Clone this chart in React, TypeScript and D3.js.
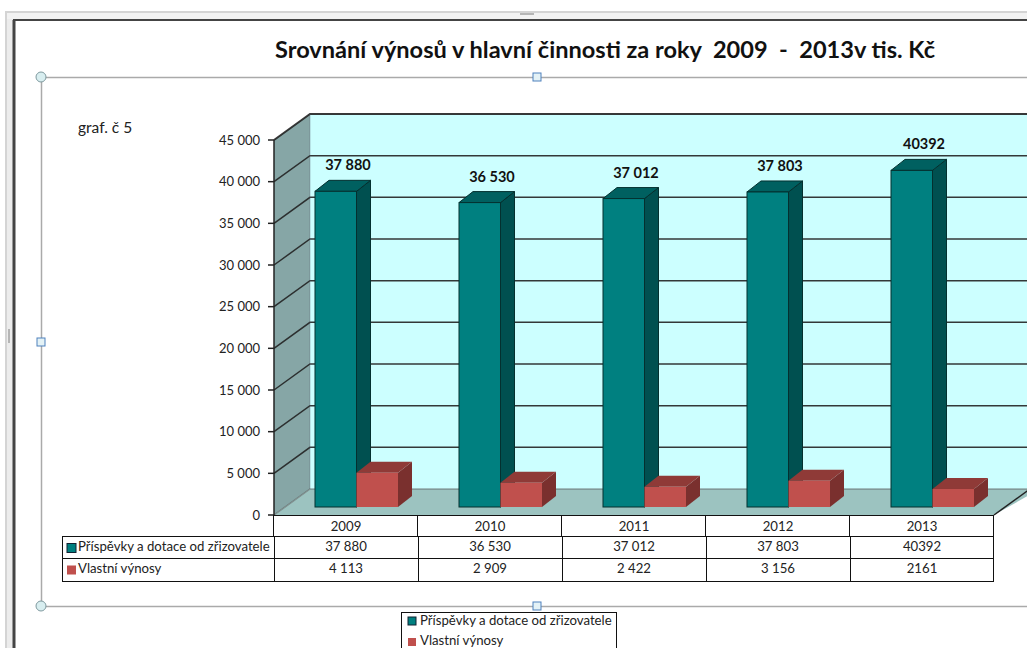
import React from "react";
import * as d3 from "d3";

const years = ["2009", "2010", "2011", "2012", "2013"];
const contributions = [37880, 36530, 37012, 37803, 40392];
const ownRevenue = [4113, 2909, 2422, 3156, 2161];
const contributionLabels = ["37 880", "36 530", "37 012", "37 803", "40392"];
const ownLabels = ["4 113", "2 909", "2 422", "3 156", "2161"];
const yTicks = [0, 5000, 10000, 15000, 20000, 25000, 30000, 35000, 40000, 45000];
const tickLabels = ["0", "5 000", "10 000", "15 000", "20 000", "25 000", "30 000", "35 000", "40 000", "45 000"];
const seriesNames = ["Příspěvky a dotace od zřizovatele", "Vlastní výnosy"];

const FONT = "Lato, 'Open Sans', sans-serif";
const y = d3.scaleLinear().domain([0, 45000]).range([515, 140]);
const x = d3.scaleBand<string>().domain(years).range([274, 994]);
const DX = 36, DY = -26, BAR_DX = 14, BAR_DY = -11, BW = 41.5, BAR_FLOOR = -8;
const RIGHT = 1040;
const y0 = y(0);

const poly = (pts: [number, number][]) => pts.map((p) => p.join(",")).join(" ");

function Box({ px, value, front, side, top }: { px: number; value: number; front: string; side: string; top: string }) {
  const by = y0 + BAR_FLOOR;
  const ty = y(value) + BAR_FLOOR;
  return (
    <g strokeWidth={1} stroke={front === "#008080" ? "#04302f" : "none"}>
      <polygon points={poly([[px + BW, by], [px + BW + BAR_DX, by + BAR_DY], [px + BW + BAR_DX, ty + BAR_DY], [px + BW, ty]])} fill={side} />
      <polygon points={poly([[px, ty], [px + BAR_DX, ty + BAR_DY], [px + BW + BAR_DX, ty + BAR_DY], [px + BW, ty]])} fill={top} />
      <rect x={px} y={ty} width={BW} height={by - ty} fill={front} />
    </g>
  );
}

function Table() {
  const rows = [
    { top: 536, bottom: 558, name: seriesNames[0], labels: contributionLabels, fill: "#008080", stroke: "#123" },
    { top: 558, bottom: 581, name: seriesNames[1], labels: ownLabels, fill: "#c0504d", stroke: "none" },
  ];
  const center = (yr: string) => x(yr)! + x.bandwidth() / 2;
  return (
    <g fontFamily={FONT} fontSize={13.2} fill="#222">
      {years.map((yr) => (
        <g key={yr}>
          <line x1={x(yr)! - 0.5} x2={x(yr)! - 0.5} y1={y0} y2={536} stroke="#111" />
          <text x={center(yr)} y={530.5} textAnchor="middle">{yr}</text>
        </g>
      ))}
      <line x1={993.5} x2={993.5} y1={y0} y2={536} stroke="#111" />
      <line x1={274} x2={994} y1={515.5} y2={515.5} stroke="#111" />
      {rows.map((r) => (
        <g key={r.name}>
          <rect x={62.5} y={r.top + 0.5} width={931} height={r.bottom - r.top} fill="none" stroke="#111" />
          <rect x={67} y={r.top + 7.5} width={9} height={9} fill={r.fill} stroke={r.stroke} />
          <text x={78} y={r.top + 15}>{r.name}</text>
          {years.map((yr, i) => (
            <g key={yr}>
              <line x1={x(yr)! + 0.5} x2={x(yr)! + 0.5} y1={r.top} y2={r.bottom} stroke="#111" />
              <text x={center(yr)} y={r.top + 15} textAnchor="middle">{r.labels[i]}</text>
            </g>
          ))}
        </g>
      ))}
    </g>
  );
}

function Handle({ cx, cy, round }: { cx: number; cy: number; round?: boolean }) {
  return round ? (
    <circle cx={cx} cy={cy} r={5} fill="#d8eef0" stroke="#7f9a9f" />
  ) : (
    <rect x={cx - 4} y={cy - 4} width={8} height={8} fill="#e4f2f6" stroke="#4f81bd" />
  );
}

export default function App() {
  return (
    <svg width={1027} height={648} style={{ position: "absolute", left: 0, top: 0, background: "#fff" }}>
      {/* window frame */}
      <rect x={6} y={12} width={1030} height={700} fill="#fff" stroke="#d4d4d4" strokeWidth={2} />
      <rect x={7} y={13} width={6} height={700} fill="#ececec" />
      <rect x={7} y={13} width={1030} height={6} fill="#f2f2f2" />
      <line x1={13} x2={1027} y1={20} y2={20} stroke="#444" strokeWidth={2} />
      <line x1={14} x2={14} y1={20} y2={648} stroke="#444" strokeWidth={3} />
      <rect x={520} y={13} width={14} height={2} fill="#b5b5b5" />
      <rect x={8} y={329} width={2} height={14} fill="#b5b5b5" />

      <text
        x={275}
        y={58}
        textLength={660}
        lengthAdjust="spacingAndGlyphs"
        fontFamily={FONT}
        fontWeight={700}
        fontSize={23.5}
        fill="#111"
        style={{ whiteSpace: "pre" }}
      >
        Srovnání výnosů v hlavní činnosti za roky  2009  -  2013v tis. Kč
      </text>

      {/* selection outline */}
      <path d="M41.5 77.5H1027M41.5 77.5V606.5M41.5 606.5H1027" fill="none" stroke="#aaa" strokeWidth={1.5} />
      <Handle cx={41} cy={77} round />
      <Handle cx={41} cy={606} round />
      <Handle cx={537} cy={77} />
      <Handle cx={41} cy={342} />
      <Handle cx={537} cy={606} />

      <text x={78} y={133} fontFamily={FONT} fontSize={15.5} fill="#222">graf. č 5</text>

      {/* 3-D chart walls */}
      <rect x={274 + DX} y={y(45000) + DY} width={RIGHT} height={y0 - y(45000)} fill="#ccffff" />
      <polygon points={poly([[274, y(45000)], [274 + DX, y(45000) + DY], [274 + DX, y0 + DY], [274, y0]])} fill="#86a6a6" />
      <polygon points={poly([[274, y0], [274 + DX, y0 + DY], [RIGHT, y0 + DY], [994, y0]])} fill="#9cc3c0" />

      {yTicks.map((t, i) => (
        <g key={t}>
          <polyline
            points={poly([[274, y(t)], [274 + DX, y(t) + DY], [RIGHT, y(t) + DY]])}
            fill="none"
            stroke={t === 0 ? "#555" : "#222"}
            strokeWidth={t === 45000 ? 2 : 1.5}
            strokeOpacity={t === 0 ? 0.5 : 0.9}
          />
          <line x1={268} x2={274} y1={y(t)} y2={y(t)} stroke="#222" strokeWidth={1.5} />
          <text x={260} y={y(t) + 4.5} textAnchor="end" fontFamily={FONT} fontSize={13} fill="#222">{tickLabels[i]}</text>
        </g>
      ))}
      <line x1={274} x2={274} y1={y(45000)} y2={y0} stroke="#222" strokeWidth={1.5} />
      <line x1={310} x2={310} y1={y(45000) + DY} y2={y0 + DY} stroke="#556" strokeOpacity={0.35} />
      <line x1={994} x2={RIGHT} y1={y0} y2={y0 + (DY * (RIGHT - 994)) / DX} stroke="#222" strokeWidth={1.5} />

      {/* bars */}
      {years.map((yr, i) => {
        const px = x(yr)! + 41;
        return (
          <g key={yr}>
            <Box px={px} value={contributions[i]} front="#008080" side="#005050" top="#006060" />
            <Box px={px + BW} value={ownRevenue[i]} front="#c0504d" side="#7a302e" top="#8f3a37" />
            <text x={px + 33} y={y(contributions[i]) + BAR_FLOOR - 21} textAnchor="middle" fontFamily={FONT} fontWeight={700} fontSize={14.5} fill="#111">
              {contributionLabels[i]}
            </text>
          </g>
        );
      })}

      <Table />

      {/* legend */}
      <rect x={401.5} y={612.5} width={215} height={50} fill="#fff" stroke="#111" />
      <g fontFamily={FONT} fontSize={13.2} fill="#222">
        <rect x={408} y={617} width={8} height={8} fill="#008080" stroke="#123" />
        <text x={420} y={625}>{seriesNames[0]}</text>
        <rect x={408} y={638} width={8} height={8} fill="#c0504d" />
        <text x={420} y={645}>{seriesNames[1]}</text>
      </g>
    </svg>
  );
}
